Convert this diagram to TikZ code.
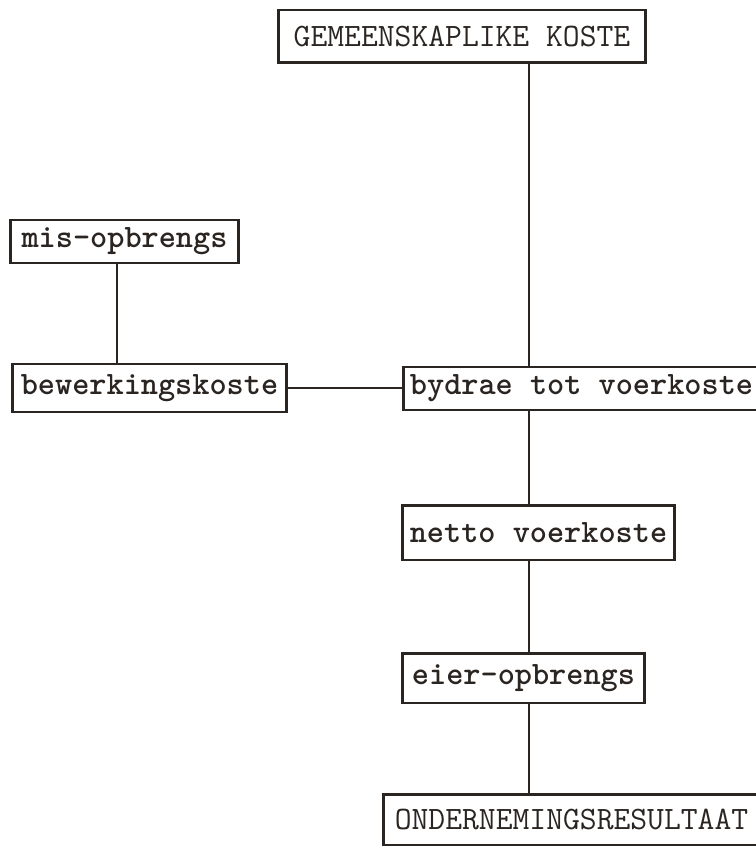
\documentclass[tikz,border=0pt]{standalone}
\usepackage{fontspec}
\usepackage{tikz}
\usetikzlibrary{positioning,calc}
\definecolor{cink}{HTML}{2B2522}
\tikzset{
  box/.style={draw=cink, line width=1.7pt, fill=white, inner sep=0pt, align=center, text=cink,
    font=\fontsize{18.6}{22}\selectfont\ttfamily},
  lowbox/.style={box, font=\fontsize{18.6}{22}\selectfont\ttfamily\bfseries},
  capbox/.style={box},
  link/.style={draw=cink, line width=1.6pt},
}

\begin{document}
\begin{tikzpicture}[x=0.02cm,y=-0.02cm]
\useasboundingbox (0,0) rectangle (755,854);
\node[capbox, minimum width=7.36cm, minimum height=1.06cm] (gem)   at (462,36.5)  {GEMEENSKAPLIKE KOSTE};
\node[lowbox, minimum width=4.58cm, minimum height=0.86cm] (mis)   at (124.5,241.5) {mis-opbrengs};
\node[lowbox, minimum width=5.50cm, minimum height=0.96cm] (bew)   at (149.5,388) {bewerkingskoste};
\node[lowbox, minimum width=7.14cm, minimum height=0.86cm] (byd)   at (581.5,388.5) {bydrae tot voerkoste};
\node[lowbox, minimum width=5.46cm, minimum height=1.10cm] (netto) at (538.5,532.5) {netto voerkoste};
\node[lowbox, minimum width=4.86cm, minimum height=1.00cm] (eier)  at (523.5,678) {eier-opbrengs};
\node[capbox, minimum width=7.54cm, minimum height=1.02cm] (ond)   at (571.5,819.5) {ONDERNEMINGSRESULTAAT};
% the two vertical runs
\coordinate (spine) at (529,0);
\coordinate (mleg)  at (117,0);
\draw[link] (gem.south -| spine) -- (byd.north -| spine);
\foreach \a/\b in {byd/netto,netto/eier,eier/ond} \draw[link] (\a.south -| spine) -- (\b.north -| spine);
\draw[link] (mis.south -| mleg) -- (bew.north -| mleg);
\draw[link] (bew.east) -- (bew.east -| byd.west);
\end{tikzpicture}
\end{document}
